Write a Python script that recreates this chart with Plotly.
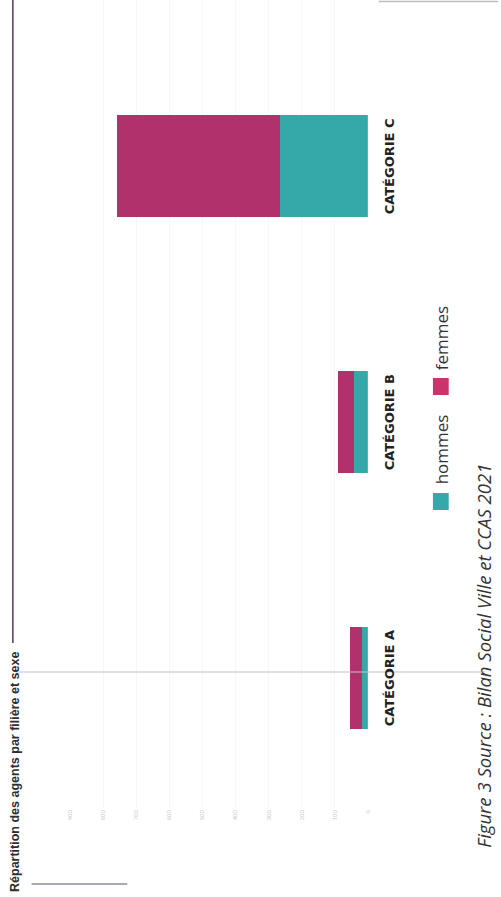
import plotly.graph_objects as go

# ---- data ----
categories = ["CATÉGORIE A", "CATÉGORIE B", "CATÉGORIE C"]
hommes = [18, 42, 265]
femmes = [36, 48, 492]
tick_values = [0, 100, 200, 300, 400, 500, 600, 700, 800, 900]
tick_labels = ["0", "100", "200", "300", "400", "500", "600", "700", "800", "900"]

W, H = 501, 897
TEAL = "#33AAA9"
MAGENTA = "#B0326C"


def px(x):
    return x / W


def py(y):
    return 1 - y / H


fig = go.Figure()
fig.add_trace(go.Bar(y=categories, x=hommes, name="hommes", orientation="h",
                     marker=dict(color=TEAL, line=dict(width=0)), width=0.40))
fig.add_trace(go.Bar(y=categories, x=femmes, name="femmes", orientation="h",
                     marker=dict(color=MAGENTA, line=dict(width=0)), width=0.40))

# y range so that category centres land at the right pixel rows
y_bottom_px, y_top_px = 808, 0
unit = 256.0
y0 = 0 - (y_bottom_px - 678) / unit
y1 = 2 + 166 / unit

fig.update_layout(
    width=W, height=H, margin=dict(l=0, r=0, t=0, b=0),
    paper_bgcolor="white", plot_bgcolor="white",
    barmode="stack", showlegend=False,
    xaxis=dict(domain=[px(67), px(369)], range=[900, 0],
               tickvals=tick_values, ticktext=tick_labels,
               tickangle=-90, tickfont=dict(size=6, color="#cdcdcd", family="Roboto"),
               showgrid=True, gridcolor="#f7f7f7", gridwidth=1,
               zeroline=False, showline=False, ticks=""),
    yaxis=dict(domain=[py(y_bottom_px), py(y_top_px)], range=[y0, y1],
               showticklabels=False, showgrid=False, zeroline=False,
               showline=False, ticks="", type="category"),
)

annotations = []
# category labels next to bars (rotated, reading bottom-to-top)
for c in categories:
    annotations.append(dict(x=0, y=c, xref="x", yref="y", text="<b>%s</b>" % c,
                            textangle=-90, showarrow=False, xanchor="left",
                            yanchor="middle", xshift=12,
                            font=dict(family="DejaVu Sans", size=13, color="#222222")))

# title
annotations.append(dict(x=px(2), y=py(894), xref="paper", yref="paper",
                        text="<b>Répartition des agents par filière et sexe</b>",
                        textangle=-90, showarrow=False, xanchor="left", yanchor="bottom",
                        font=dict(family="Liberation Sans", size=12.5, color="#2e2e2e")))

# legend texts
annotations.append(dict(x=px(443.5), y=py(449), xref="paper", yref="paper", text="hommes",
                        textangle=-90, showarrow=False, xanchor="center", yanchor="middle",
                        font=dict(family="Open Sans", size=17, color="#333333")))
annotations.append(dict(x=px(443.5), y=py(338), xref="paper", yref="paper", text="femmes",
                        textangle=-90, showarrow=False, xanchor="center", yanchor="middle",
                        font=dict(family="Open Sans", size=17, color="#333333")))

# caption
annotations.append(dict(x=px(485.5), y=py(656), xref="paper", yref="paper",
                        text="<i>Figure 3 Source : Bilan Social Ville et CCAS 2021</i>",
                        textangle=-90, showarrow=False, xanchor="center", yanchor="middle",
                        font=dict(family="Open Sans", size=18.5, color="#333333")))

fig.update_layout(annotations=annotations)

shapes = [
    # legend squares
    dict(type="rect", xref="paper", yref="paper", x0=px(435), x1=px(451), y0=py(510), y1=py(493),
         fillcolor=TEAL, line=dict(width=0)),
    dict(type="rect", xref="paper", yref="paper", x0=px(435), x1=px(451), y0=py(395), y1=py(378),
         fillcolor="#C8346C", line=dict(width=0)),
    # rule after the title
    dict(type="line", xref="paper", yref="paper", x0=px(9), x1=px(9), y0=py(0), y1=py(643),
         line=dict(color="#4a3a66", width=1.5)),
    # page rules
    dict(type="line", xref="paper", yref="paper", x0=px(28), x1=px(125), y0=py(884), y1=py(884),
         line=dict(color="#5a4a70", width=1.2)),
    dict(type="line", xref="paper", yref="paper", x0=px(380), x1=px(501), y0=py(1.5), y1=py(1.5),
         line=dict(color="#bdbdbd", width=1.5)),
    # scan fold line
    dict(type="line", xref="paper", yref="paper", x0=px(12), x1=px(488), y0=py(672), y1=py(672),
         line=dict(color="#c4c4c4", width=1.2)),
]
fig.update_layout(shapes=shapes)

fig.write_html("out.html")
